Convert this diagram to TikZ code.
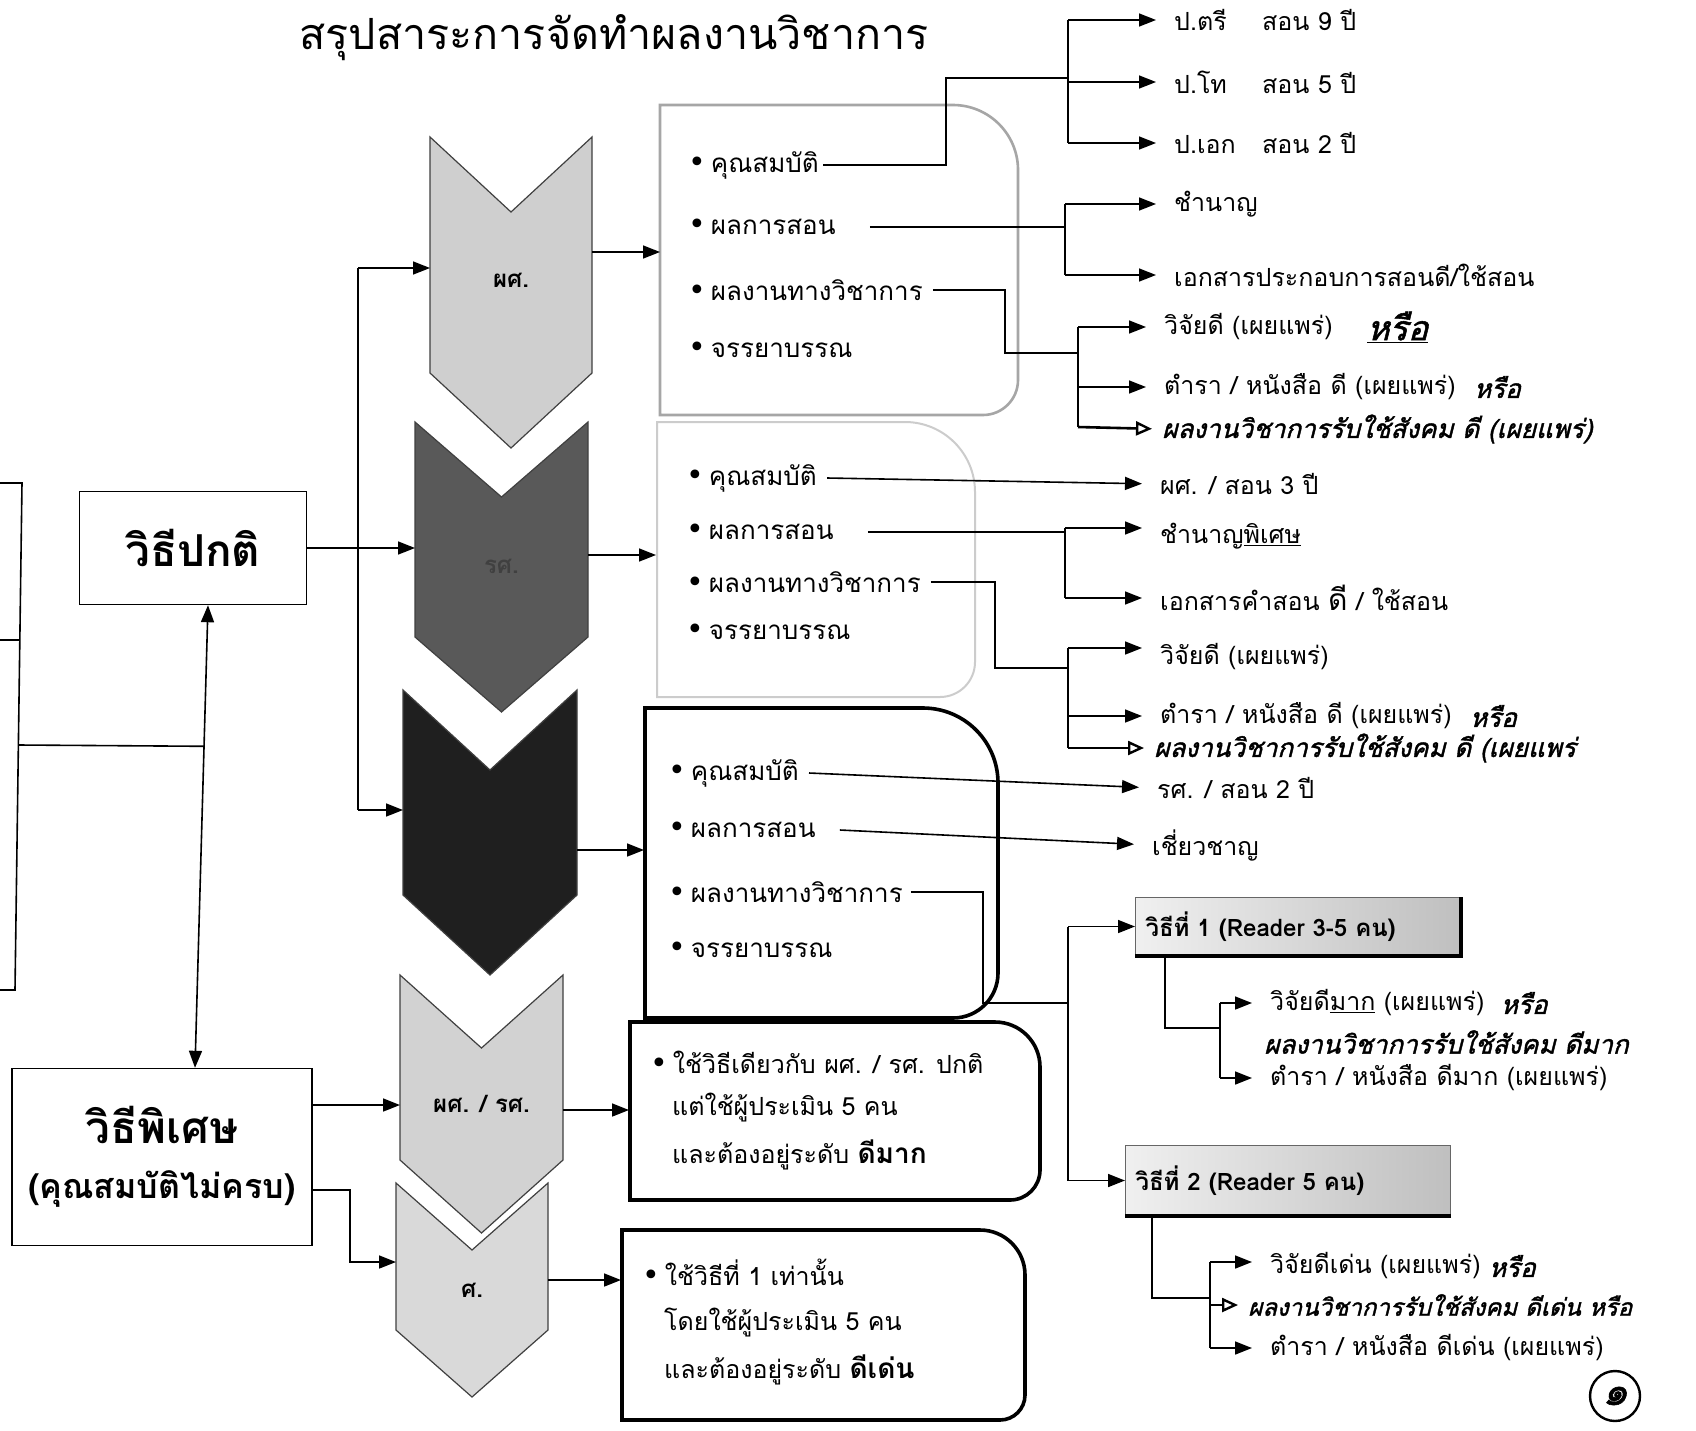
\documentclass[tikz,border=0pt]{standalone}
\usepackage{fontspec}
\setmainfont[Script=Thai]{Loma}
\newfontfamily\hand[Script=Thai,FakeSlant=0.25,FakeBold=1.5]{Loma}
\newfontfamily\dv{DejaVu Sans}
\usetikzlibrary{arrows.meta,calc}
\newcommand\bul{{\dv\fontsize{30}{18}\selectfont •}\hspace{5pt}}
\newcommand\chev[9]{%
  \filldraw[fill=#7, draw=black!75, line width=1.2pt] (#2,#4) -- ({(#2+#3)/2},{#4+#5}) -- (#3,#4) -- (#3,{#4+#6}) -- ({(#2+#3)/2},{#4+#5+#6}) -- (#2,{#4+#6}) -- cycle;
  \node[font=\bfseries\fontsize{24}{26}\selectfont] (#1) at ({(#2+#3)/2},#9) {#8};}
\newcommand\rbox[7]{%
  \draw[#7] (#1,#2) -- ({#3-#5},#2) .. controls ({#3-0.448*#5},#2) and (#3,{#2+0.448*#5}) .. (#3,{#2+#5}) -- (#3,{#4-#6}) .. controls (#3,{#4-0.448*#6}) and ({#3-0.448*#6},#4) .. ({#3-#6},#4) -- (#1,#4) -- cycle;}
\begin{document}
\begin{tikzpicture}[x=1pt,y=-1pt,
  conn/.style={line width=1.6pt, draw=black},
  arr/.style={conn, -{Triangle[length=17pt,width=13pt]}},
  arrl/.style={arr, shorten >=16pt},
  harr/.style={line width=2.6pt, -{Triangle[open,length=16pt,width=14pt,line width=2.4pt]}, shorten >=8pt},
  item/.style={anchor=west, inner sep=4pt, font=\fontsize{26}{28}\selectfont},
  lbl/.style={anchor=west, inner sep=2pt, font=\fontsize{25}{28}\selectfont},
  hw/.style={anchor=west, inner sep=2pt, font=\hand\fontsize{26}{30}\selectfont},
  boxtxt/.style={anchor=west, inner sep=2pt, font=\fontsize{25}{28}\selectfont},
  rdr/.style={anchor=north west, draw=black!60, line width=1pt, left color=gray!12, right color=gray!50, inner sep=10pt, minimum height=58pt, text width=305pt, align=left, font=\bfseries\fontsize{24}{26}\selectfont}
]
\useasboundingbox (0,0) rectangle (1696,1430);
\fill[white] (0,0) rectangle (1696,1430);

% title
\node[font=\fontsize{43}{46}\selectfont] (title) at (614,38) {สรุปสาระการจัดทำผลงานวิชาการ};

% left partial box
\draw[conn] (0,483) -- (22,483) -- (15,990) -- (0,990);
\draw[conn] (0,640) -- (20,640);
\coordinate (lj) at (19,745);

% method boxes
\node[draw, line width=1.4pt, minimum width=227pt, minimum height=113pt, inner sep=0pt, font=\bfseries\fontsize{44}{48}\selectfont] (np) at (193,548) {วิธีปกติ};
\node[draw, line width=1.4pt, minimum width=300pt, minimum height=177pt, inner sep=0pt, align=center] (ns) at (162,1157) {{\bfseries\fontsize{44}{48}\selectfont วิธีพิเศษ}\\[26pt]{\bfseries\fontsize{34}{38}\selectfont (คุณสมบัติไม่ครบ)}};
\coordinate (da1) at ([xshift=15pt]np.south);
\coordinate (da2) at ([xshift=33pt]ns.north);
\draw[conn, {Triangle[length=17pt,width=13pt]}-{Triangle[length=17pt,width=13pt]}] (da1) -- (da2);
\draw[conn] (lj) -- ($(da1)!0.305!(da2)$);

% chevrons
\chev{c1}{430}{592}{137}{75}{236}{gray!38}{ผศ.}{280}
\chev{c2}{415}{588}{422}{75}{215}{gray!70!black}{\textcolor{black!75}{รศ.}}{566}
\chev{c3}{403}{577}{690}{80}{205}{black!88}{}{832}
\chev{c4}{400}{563}{975}{73}{185}{gray!35}{ผศ. / รศ.}{1104}
\chev{c5}{396}{548}{1183}{67}{147}{gray!30}{ศ.}{1290}

% connectors left -> chevrons
\coordinate (c1in) at (430,268);
\coordinate (c2in) at (415,548);
\coordinate (c3in) at (403,810);
\coordinate (c4in) at (400,1105);
\coordinate (c5in) at (396,1262);
\draw[conn] (358,268) -- (358,810);
\draw[arr] (358,268) -- (c1in);
\draw[arr] (358,810) -- (c3in);
\draw[arr] (np.east) -- (c2in);
\draw[arr] ([yshift=52pt]ns.east) -- (c4in);
\draw[arr] ([yshift=-33pt]ns.east) -| (350,1262) -- (c5in);

% content boxes
\rbox{660}{105}{1018}{415}{65}{35}{draw=gray!70, line width=2.6pt}
\rbox{657}{422}{975}{697}{70}{35}{draw=gray!40, line width=2pt}
\rbox{645}{708}{998}{1018}{75}{45}{draw=black, line width=3.6pt}
\rbox{630}{1022}{1040}{1200}{45}{30}{draw=black, line width=3.6pt}
\rbox{622}{1230}{1025}{1420}{45}{25}{draw=black, line width=3.6pt}

% chevrons -> boxes
\draw[arr] (592,252) -- (660,252);
\draw[arr] (588,555) -- (656,555);
\draw[arr] (577,850) -- (644,850);
\draw[arr] (563,1110) -- (629,1110);
\draw[arr] (548,1280) -- (621,1280);

% box 1 items
\node[item] (q1a) at (684,165) {\bul คุณสมบัติ};
\node[item] (q1b) at (684,227) {\bul ผลการสอน};
\node[item] (q1c) at (684,290) {\bul ผลงานทางวิชาการ};
\node[item] (q1d) at (684,350) {\bul จรรยาบรรณ};

% box 2 items
\node[item] (q2a) at (682,478) {\bul คุณสมบัติ};
\node[item] (q2b) at (682,532) {\bul ผลการสอน};
\node[item] (q2c) at (682,582) {\bul ผลงานทางวิชาการ};
\node[item] (q2d) at (682,632) {\bul จรรยาบรรณ};

% box 3 items
\node[item] (q3a) at (664,773) {\bul คุณสมบัติ};
\node[item] (q3b) at (664,830) {\bul ผลการสอน};
\node[item] (q3c) at (664,892) {\bul ผลงานทางวิชาการ};
\node[item] (q3d) at (664,950) {\bul จรรยาบรรณ};

% box 4 text
\node[boxtxt] (p4a) at (648,1062) {\bul ใช้วิธีเดียวกับ ผศ. / รศ. ปกติ};
\node[boxtxt] (p4b) at (670,1108) {แต่ใช้ผู้ประเมิน 5 คน};
\node[boxtxt] (p4c) at (670,1155) {และต้องอยู่ระดับ {\bfseries\fontsize{28}{30}\selectfont ดีมาก}};
% box 5 text
\node[boxtxt] (p5a) at (640,1272) {\bul ใช้วิธีที่ 1 เท่านั้น};
\node[boxtxt] (p5b) at (662,1322) {โดยใช้ผู้ประเมิน 5 คน};
\node[boxtxt] (p5c) at (662,1370) {และต้องอยู่ระดับ {\bfseries\fontsize{28}{30}\selectfont ดีเด่น}};

% ---- group 1: qualification
\node[lbl] (a1) at (1172,20) {\makebox[88pt][l]{ป.ตรี}สอน 9 ปี};
\node[lbl] (a2) at (1172,82) {\makebox[88pt][l]{ป.โท}สอน 5 ปี};
\node[lbl] (a3) at (1172,143) {\makebox[88pt][l]{ป.เอก}สอน 2 ปี};
\coordinate (j1) at (946,78);
\coordinate (t1a) at (1068,20);
\draw[conn] (q1a.east) -| (j1) -- (j1 -| t1a);
\draw[conn] (t1a) -- (t1a |- a3.west);
\draw[arrl] (t1a) -- (a1.west);
\draw[arrl] (t1a |- a2.west) -- (a2.west);
\draw[arrl] (t1a |- a3.west) -- (a3.west);

% group 1: teaching
\node[lbl] (b1) at (1172,204) {ชำนาญ};
\node[lbl] (b2) at (1172,275) {เอกสารประกอบการสอนดี/ใช้สอน};
\coordinate (t1b) at (1065,204);
\draw[conn] ([xshift=30pt]q1b.east) -- (q1b.east -| t1b);
\draw[conn] (t1b) -- (t1b |- b2.west);
\draw[arrl] (t1b) -- (b1.west);
\draw[arrl] (t1b |- b2.west) -- (b2.west);

% group 1: academic works
\node[lbl] (d1) at (1162,327) {วิจัยดี (เผยแพร่)};
\node[hw, font=\hand\fontsize{34}{36}\selectfont] (d1h) at ([xshift=30pt]d1.east) {\underline{หรือ}};
\node[lbl] (d2) at (1162,387) {ตำรา / หนังสือ ดี (เผยแพร่)};
\node[hw] (d2h) at ([xshift=14pt]d2.east) {หรือ};
\node[hw] (d3) at (1160,429) {ผลงานวิชาการรับใช้สังคม ดี (เผยแพร่)};
\coordinate (k1) at (1005,353);
\coordinate (t1c) at (1078,327);
\draw[conn] ([xshift=6pt]q1c.east) -| (k1) -- (k1 -| t1c);
\draw[conn] (t1c) -- (1078,427);
\draw[arrl] (t1c) -- (d1.west);
\draw[arrl] (t1c |- d2.west) -- (d2.west);
\draw[harr] (1078,427) -- (d3.west);

% ---- group 2
\node[lbl] (e1) at (1158,484) {ผศ. / สอน 3 ปี};
\draw[arrl] ([xshift=6pt]q2a.east) -- (e1.west);
\node[lbl] (f1) at (1158,536) {ชำนาญ\underline{พิเศษ}};
\node[lbl] (f2) at (1158,598) {เอกสารคำสอน {\fontsize{30}{30}\selectfont ดี} / ใช้สอน};
\coordinate (t2b) at (1065,528);
\draw[conn] ([xshift=30pt]q2b.east) -- (q2b.east -| t2b);
\draw[conn] (t2b) -- (t2b |- f2.west);
\draw[arrl] (t2b) -- (f1.west |- t2b);
\draw[arrl] (t2b |- f2.west) -- (f2.west);

\node[lbl] (g1) at (1158,657) {วิจัยดี (เผยแพร่)};
\node[lbl] (g2) at (1158,716) {ตำรา / หนังสือ ดี (เผยแพร่)};
\node[hw] (g2h) at ([xshift=14pt]g2.east) {หรือ};
\node[hw] (g3) at (1152,748) {ผลงานวิชาการรับใช้สังคม ดี (เผยแพร่};
\coordinate (k2) at (995,668);
\coordinate (t2c) at (1068,648);
\draw[conn] ([xshift=6pt]q2c.east) -| (k2) -- (k2 -| t2c);
\draw[conn] (t2c) -- (1068,748);
\draw[arrl] (t2c) -- (g1.west |- t2c);
\draw[arrl] (t2c |- g2.west) -- (g2.west);
\draw[harr] (1068,748) -- (g3.west);

% ---- group 3
\node[lbl] (h1) at (1155,788) {รศ. / สอน 2 ปี};
\draw[arrl] ([xshift=6pt]q3a.east) -- (h1.west);
\node[lbl] (i1) at (1150,845) {เชี่ยวชาญ};
\draw[arrl] ([xshift=20pt]q3b.east) -- (i1.west);

\node[rdr] (r1) at (1135,897) {วิธีที่ 1 (Reader 3-5 คน)};
\node[rdr, minimum height=70pt] (r2) at (1125,1145) {วิธีที่ 2 (Reader 5 คน)};
\draw[line width=3.2pt] (r1.north east) -- (r1.south east) -- (r1.south west);
\draw[line width=3.2pt] (r2.south east) -- (r2.south west);
\coordinate (k3) at (983,1003);
\coordinate (t3) at (1068,1003);
\draw[conn] ([xshift=4pt]q3c.east) -| (k3) -- (t3);
\draw[conn] (r1.west -| t3) -- (r2.west -| t3);
\draw[arr] (r1.west -| t3) -- (r1.west);
\draw[arr] (r2.west -| t3) -- (r2.west);

% reader 1 outputs
\node[lbl] (m1) at (1268,1003) {วิจัยดี\underline{มาก} (เผยแพร่)};
\node[hw] (m1h) at ([xshift=12pt]m1.east) {หรือ};
\node[hw] (m2) at (1262,1042) {ผลงานวิชาการรับใช้สังคม ดีมาก};
\node[lbl] (m3) at (1268,1078) {ตำรา / หนังสือ ดีมาก (เผยแพร่)};
\coordinate (t4) at (1220,1003);
\draw[conn] ([xshift=30pt]r1.south west) |- (1220,1028);
\draw[conn] (t4) -- (t4 |- m3.west);
\draw[arrl] (t4) -- (m1.west);
\draw[arrl] (t4 |- m3.west) -- (m3.west);

% reader 2 outputs
\node[lbl] (n1) at (1268,1266) {วิจัยดีเด่น (เผยแพร่)};
\node[hw] (n1h) at ([xshift=4pt]n1.east) {หรือ};
\node[hw, font=\hand\fontsize{24}{28}\selectfont] (n2) at (1246,1305) {ผลงานวิชาการรับใช้สังคม ดีเด่น หรือ};
\node[lbl] (n3) at (1268,1348) {ตำรา / หนังสือ ดีเด่น (เผยแพร่)};
\coordinate (t5) at (1210,1262);
\draw[conn] ([xshift=27pt]r2.south west) |- (1210,1298);
\draw[conn] (t5) -- (t5 |- n3.west);
\draw[arrl] (t5) -- (n1.west |- t5);
\draw[harr] (t5 |- n2.west) -- (n2.west);
\draw[arrl] (t5 |- n3.west) -- (n3.west);

% page number
\node[draw, circle, line width=2.4pt, minimum size=50pt, inner sep=2pt, font=\hand\fontsize{40}{40}\selectfont] (pg) at (1615,1396) {๑};
\end{tikzpicture}
\end{document}
